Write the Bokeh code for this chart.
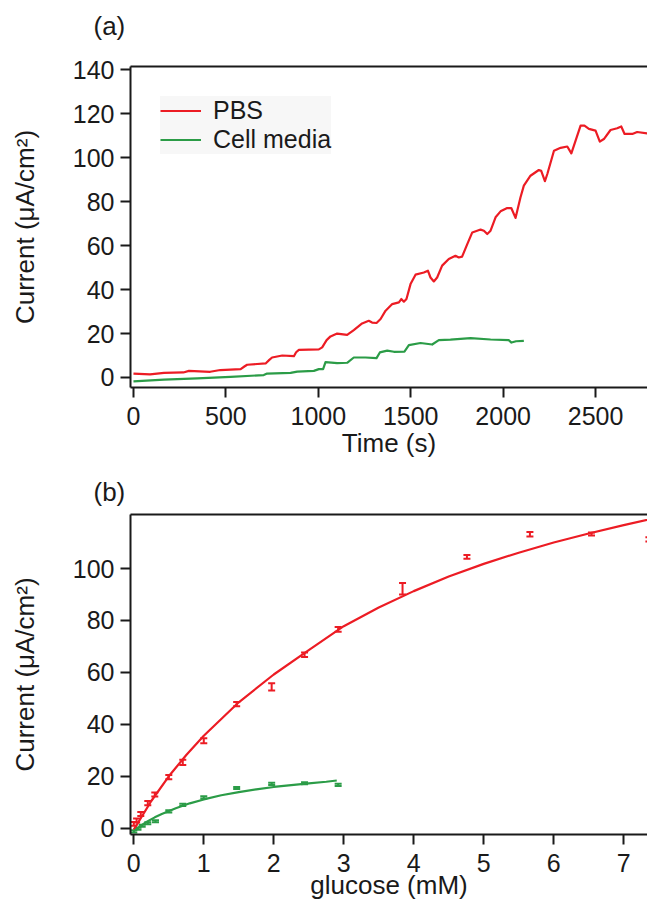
from bokeh.plotting import figure
from bokeh.models import (ColumnDataSource, Whisker, TeeHead, LinearAxis,
                          FixedTicker, Range1d)
from bokeh.layouts import column
from bokeh.embed import file_html
from bokeh.resources import INLINE

# ---------------- data: panel (a) amperometric traces ----------------
pbs_time = [0, 60, 90, 165, 270, 300, 415, 470, 580, 600, 615, 715, 735, 750,
            805, 868, 880, 895, 1003, 1021, 1045, 1066, 1102, 1156, 1192, 1237,
            1273, 1291, 1315, 1337, 1364, 1400, 1436, 1449, 1463, 1477, 1499,
            1526, 1571, 1593, 1607, 1625, 1643, 1670, 1706, 1742, 1760, 1778,
            1806, 1833, 1878, 1896, 1914, 1932, 1959, 1986, 2022, 2044, 2067,
            2094, 2112, 2148, 2193, 2206, 2226, 2239, 2275, 2311, 2347, 2369,
            2392, 2419, 2440, 2464, 2500, 2523, 2545, 2581, 2617, 2639, 2657,
            2699, 2725, 2780, 2810]
pbs_current = [1.8, 1.5, 1.4, 2.1, 2.3, 3.0, 2.6, 3.4, 3.8, 5.0, 5.8, 6.4, 8.0,
               9.1, 10.0, 9.7, 11.5, 12.6, 12.8, 13.7, 17.0, 18.7, 20.0, 19.4,
               21.6, 24.6, 25.8, 25.0, 24.8, 26.6, 30.4, 33.4, 34.2, 35.7, 34.5,
               35.7, 42.5, 46.8, 47.8, 48.6, 45.5, 43.7, 45.5, 50.9, 53.9, 55.4,
               54.6, 55.0, 60.7, 66.0, 67.3, 66.8, 65.3, 66.8, 72.9, 75.6, 77.1,
               77.1, 72.6, 82.0, 87.3, 91.8, 94.4, 94.0, 89.3, 92.6, 103.2, 104.5,
               105.1, 102.0, 107.8, 114.6, 114.6, 113.1, 112.3, 107.3, 108.5,
               112.6, 113.4, 114.2, 110.8, 110.8, 111.7, 111.1, 111.1]

media_time = [0, 165, 345, 525, 705, 723, 850, 886, 976, 1003, 1026, 1039, 1102,
              1156, 1192, 1255, 1315, 1333, 1373, 1409, 1466, 1490, 1553, 1616,
              1652, 1715, 1824, 1932, 2030, 2045, 2070, 2112]
media_current = [-1.8, -1.0, -0.4, 0.3, 1.1, 1.8, 2.1, 2.7, 3.0, 3.8, 3.8, 7.0,
                 6.5, 6.7, 9.1, 9.1, 8.8, 11.4, 12.2, 11.7, 11.8, 14.7, 15.7,
                 15.0, 17.0, 17.2, 17.9, 17.3, 17.0, 15.9, 16.5, 16.7]

# ---------------- data: panel (b) calibration ----------------
pbs_glucose = [0, 0.04, 0.1, 0.2, 0.3, 0.5, 0.7, 1.0, 1.47, 1.97, 2.44, 2.92,
               3.84, 4.76, 5.66, 6.54, 7.36]
pbs_mean = [1.7, 3.0, 5.5, 9.7, 13.0, 19.7, 25.4, 33.7, 47.8, 54.4, 66.8, 76.6,
            92.2, 104.5, 113.2, 113.3, 111.2]
pbs_err = [0.7, 0.8, 0.8, 0.8, 0.8, 0.8, 1.0, 1.0, 0.8, 1.4, 0.9, 0.9, 2.2,
           0.7, 0.9, 0.6, 0.8]

media_glucose = [0, 0.06, 0.12, 0.2, 0.31, 0.5, 0.7, 1.0, 1.47, 1.97, 2.44, 2.92]
media_mean = [-1.2, -0.2, 1.0, 1.9, 2.7, 6.5, 9.0, 11.9, 15.5, 17.1, 17.3, 16.7]
media_err = [0.4, 0.4, 0.4, 0.4, 0.4, 0.4, 0.4, 0.4, 0.4, 0.4, 0.4, 0.4]

pbs_fit_x = [0, 0.25, 0.5, 0.75, 1.0, 1.5, 2.0, 2.5, 3.0, 3.5, 4.0, 4.5, 5.0,
             5.5, 6.0, 6.5, 7.0, 7.5]
pbs_fit_y = [-0.5, 10.5, 20.0, 28.2, 35.6, 48.5, 59.2, 68.6, 77.8, 85.0, 91.3,
             96.9, 101.8, 106.1, 110.0, 113.5, 116.7, 119.7]
media_fit_x = [0, 0.05, 0.1, 0.2, 0.3, 0.4, 0.6, 0.8, 1.0, 1.25, 1.5, 1.75, 2.0,
               2.25, 2.5, 2.75, 2.9]
media_fit_y = [-1.2, 0.0, 1.0, 2.7, 4.2, 5.5, 7.7, 9.6, 11.1, 12.7, 13.9, 15.0,
               15.9, 16.6, 17.3, 17.9, 18.4]

time_ticks = [0, 500, 1000, 1500, 2000, 2500]
current_ticks_a = [0, 20, 40, 60, 80, 100, 120, 140]
glucose_ticks = [0, 1, 2, 3, 4, 5, 6, 7]
current_ticks_b = [0, 20, 40, 60, 80, 100]

FONT = "Liberation Sans"
RED = "#ec1c24"
GREEN = "#2b9c47"
INK = "#1a1a1a"
TICK_FS = "25px"
LABEL_FS = "26px"


def style(p, xticks, yticks, xlabel, ylabel, xlabel_standoff):
    p.xaxis.axis_label = xlabel
    p.yaxis.axis_label = ylabel
    for ax in (p.xaxis[0], p.yaxis[0]):
        ax.axis_line_width = 2
        ax.axis_line_color = INK
        ax.major_tick_line_width = 2
        ax.major_tick_line_color = INK
        ax.major_tick_out = 10
        ax.major_tick_in = 0
        ax.minor_tick_line_color = None
        ax.major_label_text_font = FONT
        ax.major_label_text_font_size = TICK_FS
        ax.major_label_text_color = INK
        ax.axis_label_text_font = FONT
        ax.axis_label_text_font_size = LABEL_FS
        ax.axis_label_text_font_style = "normal"
        ax.axis_label_text_color = INK
    p.xaxis[0].ticker = FixedTicker(ticks=xticks)
    p.yaxis[0].ticker = FixedTicker(ticks=yticks)
    p.xaxis[0].major_label_standoff = 9
    p.xaxis[0].axis_label_standoff = xlabel_standoff
    p.yaxis[0].major_label_standoff = 6
    p.yaxis[0].axis_label_standoff = 30
    p.xgrid.visible = False
    p.ygrid.visible = False
    p.outline_line_color = None
    top = LinearAxis(ticker=FixedTicker(ticks=[]), axis_line_width=2,
                     axis_line_color=INK, major_tick_line_color=None,
                     major_tick_out=0, major_tick_in=0,
                     minor_tick_line_color=None, minor_tick_out=0,
                     major_label_text_font_size="0px", major_label_standoff=0)
    p.add_layout(top, "above")
    t = p.title
    t.text_font = FONT
    t.text_font_size = LABEL_FS
    t.text_font_style = "normal"
    t.text_color = INK
    t.align = "left"
    t.offset = -37


# ---------------- panel (a) ----------------
p1 = figure(width=647, height=466, title="(a)\n\u00a0",
            x_range=Range1d(-16, 2781), y_range=Range1d(-4.55, 141.5),
            output_backend="svg", toolbar_location=None,
            min_border_left=130, min_border_right=0, min_border_top=66,
            min_border_bottom=79)
p1.line(pbs_time, pbs_current, line_color=RED, line_width=2.2,
        line_join="round", legend_label="PBS")
p1.line(media_time, media_current, line_color=GREEN, line_width=2.2,
        line_join="round", legend_label="Cell media")
style(p1, time_ticks, current_ticks_a, "Time (s)", "Current (\u03bcA/cm\u00b2)", 0)
p1.title.text_line_height = 0.8
p1.title.vertical_align = "top"
p1.title.standoff = 0
lg = p1.legend[0]
lg.location = (30, 233)
lg.padding = 3
lg.spacing = 0
lg.margin = 0
lg.glyph_width = 41
lg.glyph_height = 27
lg.label_height = 27
lg.label_standoff = 12
lg.label_text_font = FONT
lg.label_text_font_size = "25px"
lg.label_text_color = INK
lg.background_fill_color = "#f7f7f7"
lg.border_line_color = None

# ---------------- panel (b) ----------------
p2 = figure(width=647, height=439, title="(b)",
            x_range=Range1d(-0.047, 7.34), y_range=Range1d(-2.4, 120.8),
            output_backend="svg", toolbar_location=None,
            min_border_left=130, min_border_right=0, min_border_top=48,
            min_border_bottom=71)

src_pbs = ColumnDataSource(dict(
    x=pbs_glucose,
    lo=[m - e for m, e in zip(pbs_mean, pbs_err)],
    hi=[m + e for m, e in zip(pbs_mean, pbs_err)]))
src_med = ColumnDataSource(dict(
    x=media_glucose,
    lo=[m - e for m, e in zip(media_mean, media_err)],
    hi=[m + e for m, e in zip(media_mean, media_err)]))

p2.line(pbs_fit_x, pbs_fit_y, line_color=RED, line_width=2.2)
p2.line(media_fit_x, media_fit_y, line_color=GREEN, line_width=2.2)
for src, col in ((src_pbs, RED), (src_med, GREEN)):
    w = Whisker(source=src, base="x", lower="lo", upper="hi",
                line_color=col, line_width=2,
                lower_head=TeeHead(size=7, line_color=col, line_width=2),
                upper_head=TeeHead(size=7, line_color=col, line_width=2))
    p2.add_layout(w)
style(p2, glucose_ticks, current_ticks_b, "glucose (mM)",
      "Current (\u03bcA/cm\u00b2)", -5)
p2.title.vertical_align = "bottom"
p2.title.standoff = 15

layout = column(p1, p2)
open("out.html", "w").write(file_html(layout, INLINE))
